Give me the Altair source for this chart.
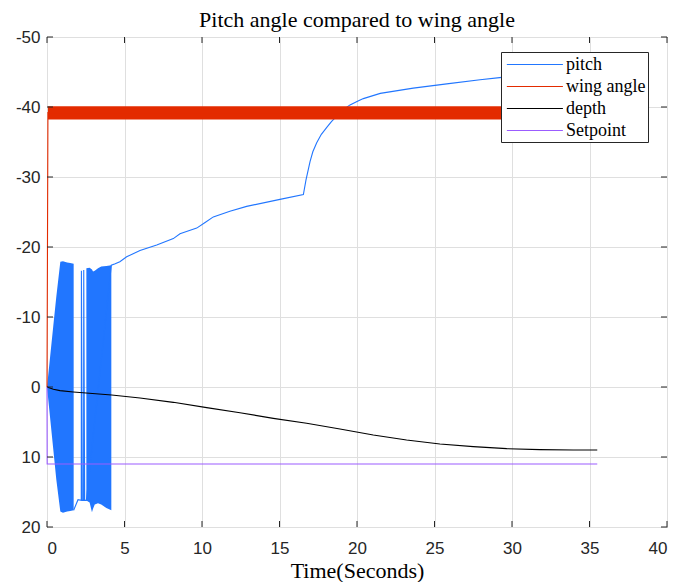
import altair as alt
import pandas as pd

# ---------------- data ----------------
# pitch: oscillating envelope, first burst
b1_t = [0.0, 0.2, 0.4, 0.6, 0.86, 1.03, 1.3, 1.5, 1.72]
b1_hi = [0.0, -4.3, -8.6, -12.9, -17.9, -17.95, -17.8, -17.7, -17.6]
b1_lo = [0.0, 4.4, 8.8, 13.2, 17.8, 17.95, 17.8, 17.7, 17.6]
# pitch: oscillating envelope, second burst
b2_t = [2.54, 2.75, 2.9, 2.97, 3.08, 3.29, 3.5, 3.83, 4.15]
b2_hi = [-16.95, -17.05, -16.8, -16.5, -16.6, -16.95, -17.2, -17.3, -17.4]
b2_lo = [16.2, 16.5, 17.9, 17.4, 16.8, 16.6, 16.8, 17.3, 17.6]
# pitch: line part
pitch_t = [1.72, 2.0, 2.21, 2.22, 2.28, 2.36, 2.37, 2.43, 2.54, 4.15, 4.4, 4.7, 5.14,
           6.0, 7.08, 8.15, 8.58, 9.0, 9.66, 10.2, 10.73, 11.8, 12.88, 15.03, 16.54,
           16.71, 16.97, 17.15, 17.4, 17.7, 18.05, 18.35, 18.69, 19.1, 19.55, 20.0,
           20.41, 21.5, 23.63, 25.79, 27.94, 29.2, 32.0, 35.5]
pitch_v = [17.6, 16.1, 16.2, -16.6, 16.2, 16.2, -16.7, 16.2, 16.2, -17.4, -17.6, -17.9, -18.6,
           -19.5, -20.3, -21.2, -21.9, -22.2, -22.7, -23.5, -24.3, -25.1, -25.8, -26.8, -27.5,
           -29.6, -32.2, -33.6, -34.9, -36.1, -37.1, -37.9, -38.7, -39.6, -40.3, -40.8,
           -41.2, -41.95, -42.7, -43.3, -43.9, -44.2, -44.9, -45.7]
# wing angle
wing_t = [0.0, 0.06, 35.5]
wing_v = [0.0, -39.2, -39.2]
wing_band_t = [0.06, 35.5]
wing_band_hi = [-40.1, -40.1]
wing_band_lo = [-38.2, -38.2]
# depth
depth_t = [0.0, 0.41, 0.84, 1.7, 4.17, 6.0, 8.15, 10.3, 12.45, 14.6, 16.75, 18.9,
           21.05, 23.2, 25.35, 27.5, 29.66, 31.8, 33.96, 35.5]
depth_v = [0.0, 0.33, 0.52, 0.71, 1.14, 1.57, 2.19, 2.95, 3.67, 4.48, 5.19, 6.0,
           6.86, 7.57, 8.14, 8.52, 8.81, 8.95, 9.0, 9.0]
# setpoint
set_t = [0.0, 0.01, 35.5]
set_v = [0.0, 11.0, 11.0]

series_names = ["pitch", "wing angle", "depth", "Setpoint"]
series_colors = ["#2176ff", "#e32b00", "#000000", "#9b5cff"]

x_ticks = [0, 5, 10, 15, 20, 25, 30, 35, 40]
y_ticks = [-50, -40, -30, -20, -10, 0, 10, 20]

# ---------------- chart ----------------
X_DOM = [0, 40]
Y_DOM = [-50, 20]
W, H = 620, 490

xs = alt.Scale(domain=X_DOM, nice=False, zero=False)
ys = alt.Scale(domain=Y_DOM, nice=False, zero=False, reverse=True)
cs = alt.Scale(domain=series_names, range=series_colors)

legend = alt.Legend(
    title=None, orient="none", legendX=454, legendY=15, direction="vertical",
    fillColor="white", strokeColor="#262626", padding=2, cornerRadius=0,
    symbolType="M-0.7,0H5.2", symbolSize=361, symbolStrokeWidth=1.2,
    labelFont="Liberation Serif", labelFontSize=18, labelColor="black",
    labelOffset=42, rowPadding=2, labelExpr="datum.label + ' '",
)

x_enc = alt.X("t:Q", scale=xs, axis=alt.Axis(
    values=x_ticks, title="Time(Seconds)", grid=True, domain=False, ticks=False,
    labelPadding=13, titlePadding=4, labelExpr="'' + datum.value"))
y_enc = alt.Y("v:Q", scale=ys, axis=alt.Axis(
    values=y_ticks, title=None, grid=True, domain=False, ticks=False,
    labelPadding=7, labelExpr="'' + datum.value"))


def band(ts, hi, lo, color):
    df = pd.DataFrame({"t": ts, "v": hi, "v2": lo})
    return alt.Chart(df).mark_area(color=color, opacity=1, line=False).encode(
        x=x_enc, y=y_enc, y2="v2:Q")


def line(ts, vs, name):
    df = pd.DataFrame({"t": ts, "v": vs, "series": name, "i": range(len(ts))})
    return alt.Chart(df).mark_line(strokeWidth=1.1).encode(
        x=x_enc, y=y_enc, order="i:Q",
        color=alt.Color("series:N", scale=cs, legend=legend))


pitch_band1 = band(b1_t, b1_hi, b1_lo, series_colors[0])
pitch_band2 = band(b2_t, b2_hi, b2_lo, series_colors[0])
pitch_line = line(pitch_t, pitch_v, "pitch")
wing_band = band(wing_band_t, wing_band_hi, wing_band_lo, series_colors[1])
wing_line = line(wing_t, wing_v, "wing angle")
depth_line = line(depth_t, depth_v, "depth")
set_line = line(set_t, set_v, "Setpoint")

# inward ticks on all four sides (MATLAB box style)
tx_len = 6 / H * (Y_DOM[1] - Y_DOM[0])
ty_len = 6 / W * (X_DOM[1] - X_DOM[0])
tick_rows = []
for t in x_ticks:
    tick_rows.append({"t": t, "t2": t, "v": Y_DOM[1], "v2": Y_DOM[1] - tx_len})
    tick_rows.append({"t": t, "t2": t, "v": Y_DOM[0], "v2": Y_DOM[0] + tx_len})
for v in y_ticks:
    tick_rows.append({"t": X_DOM[0], "t2": X_DOM[0] + ty_len, "v": v, "v2": v})
    tick_rows.append({"t": X_DOM[1], "t2": X_DOM[1] - ty_len, "v": v, "v2": v})
ticks = alt.Chart(pd.DataFrame(tick_rows)).mark_rule(color="#262626", strokeWidth=1).encode(
    x=x_enc, x2="t2:Q", y=y_enc, y2="v2:Q")

chart = alt.layer(
    pitch_band1, pitch_band2, pitch_line, wing_band, wing_line, depth_line, set_line, ticks
).properties(
    width=W, height=H,
    title=alt.TitleParams("Pitch angle compared to wing angle", font="Liberation Serif",
                          fontSize=22, fontWeight="normal", color="black",
                          anchor="middle", frame="group", offset=-4),
    autosize=alt.AutoSizeParams(type="none"),
    padding={"left": 39, "top": 29, "right": 5, "bottom": 55},
).configure_view(
    stroke="#262626", strokeWidth=1
).configure_axis(
    gridColor="#dfdfdf", gridWidth=1,
    labelFont="Liberation Sans", labelFontSize=17, labelColor="#262626",
    titleFont="Liberation Serif", titleFontSize=22, titleFontWeight="normal", titleColor="black",
)

chart.save("out.html", embed_options={"renderer": "svg", "actions": False})
